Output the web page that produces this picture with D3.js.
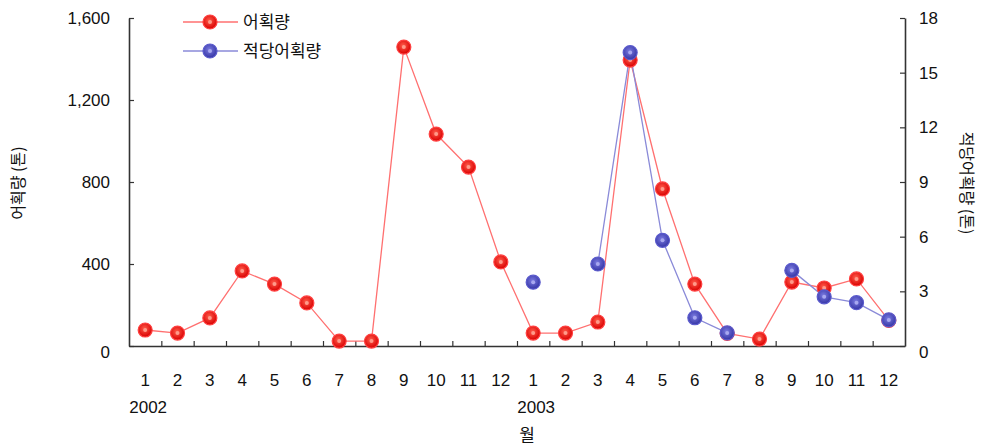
<!DOCTYPE html>
<html><head><meta charset="utf-8">
<script src="https://cdn.jsdelivr.net/npm/d3@7"></script>
<style>
body{margin:0;background:#fff;}
text{font-family:"Liberation Sans",Arial,sans-serif;fill:#111;}
.kr{font-family:"Noto Sans CJK KR",sans-serif;}
</style></head>
<body><svg id="c" width="993" height="448"></svg>
<script>
const months = ["1","2","3","4","5","6","7","8","9","10","11","12","1","2","3","4","5","6","7","8","9","10","11","12"];
const years = [{label:"2002", idx:0},{label:"2003", idx:12}];
const catch_t = [78,63,137,366,302,210,24,24,1458,1034,873,410,63,63,117,1395,766,302,62,34,312,283,327,125];
const proper_t = [null,null,null,null,null,null,null,null,null,null,null,null,3.5,null,4.5,16.1,5.8,1.55,0.72,null,4.15,2.7,2.38,1.43];
const leftTicks = [0,400,800,1200,1600];
const rightTicks = [0,3,6,9,12,15,18];

const svg = d3.select("#c");
const L=129,R=905,T=18,B=346;
const idx = d3.range(months.length);
const x = d3.scaleBand().domain(idx).range([L,R]);
const yL = d3.scaleLinear().domain([0,1600]).range([B,T]);
const yR = d3.scaleLinear().domain([0,18]).range([B,T]);
const cx = i => x(i)+x.bandwidth()/2;

const axisColor="#333";
const gl = svg.append("g").attr("transform",`translate(${L},0)`)
  .call(d3.axisLeft(yL).tickValues(leftTicks).tickFormat(d3.format(",")).tickSizeInner(-5).tickSizeOuter(0).tickPadding(19));
const gr = svg.append("g").attr("transform",`translate(${R},0)`)
  .call(d3.axisRight(yR).tickValues(rightTicks).tickSizeInner(-5).tickSizeOuter(0).tickPadding(14));
const xb = d3.scaleLinear().domain([0,24]).range([L,R]);
const gb = svg.append("g").attr("transform",`translate(0,${B})`)
  .call(d3.axisBottom(xb).tickValues(d3.range(1,24)).tickSizeInner(-5).tickSizeOuter(0).tickFormat(""));
[gl,gr,gb].forEach(g=>{
  g.selectAll("path").attr("stroke",axisColor).attr("stroke-width",1.6);
  g.selectAll("line").attr("stroke",axisColor).attr("stroke-width",1.2);
  g.selectAll("text").style("font-size","17px").attr("fill","#111");
});
gl.select(".tick:first-of-type text").attr("dy","0.65em");
gr.select(".tick:first-of-type text").attr("dy","0.65em");

svg.append("g").selectAll("text").data(idx).join("text")
  .attr("x",i=>cx(i)).attr("y",386).attr("text-anchor","middle")
  .style("font-size","17px").text(i=>months[i]);
svg.append("g").selectAll("text").data(years).join("text")
  .attr("x",d=>cx(d.idx)+3).attr("y",413).attr("text-anchor","middle")
  .style("font-size","17px").text(d=>d.label);
svg.append("text").attr("class","kr").attr("x",527).attr("y",441).attr("text-anchor","middle")
  .style("font-size","17px").text("월");

svg.append("text").attr("class","kr").attr("transform","translate(24,183) rotate(-90)")
  .attr("text-anchor","middle").style("font-size","16px").text("어획량 (톤)");
svg.append("text").attr("class","kr").attr("transform","translate(961,183) rotate(90)")
  .attr("text-anchor","middle").style("font-size","16px").text("적당어획량 (톤)");

const defs = svg.append("defs");
function grad(id,c1,c2){
  const g=defs.append("radialGradient").attr("id",id).attr("cx","45%").attr("cy","40%").attr("r","60%");
  g.append("stop").attr("offset","0%").attr("stop-color",c1);
  g.append("stop").attr("offset","100%").attr("stop-color",c2);
}
grad("gr","#ff5a4a","#d80000");
grad("gb","#7a7ae0","#3535a5");

const redLine="#ff7070", blueLine="#8a8ad8";
const lineL = d3.line().x((d,i)=>cx(i)).y(d=>yL(d));
svg.append("path").datum(catch_t).attr("d",lineL).attr("fill","none").attr("stroke",redLine).attr("stroke-width",1.3);
const lineR = d3.line().defined(d=>d!==null).x((d,i)=>cx(i)).y(d=>yR(d));
svg.append("path").datum(proper_t).attr("d",lineR).attr("fill","none").attr("stroke",blueLine).attr("stroke-width",1.3);

function marker(g,xp,yp,kind){
  g.append("circle").attr("cx",xp).attr("cy",yp).attr("r",7)
    .attr("fill",kind==="r"?"url(#gr)":"url(#gb)")
    .attr("stroke",kind==="r"?"#ff4040":"#5a5acc").attr("stroke-width",1.2);
  g.append("circle").attr("cx",xp).attr("cy",yp).attr("r",2)
    .attr("fill",kind==="r"?"#ff9a8a":"#a8a8f0");
}
const gm = svg.append("g");
catch_t.forEach((v,i)=>marker(gm,cx(i),yL(v),"r"));
proper_t.forEach((v,i)=>{ if(v!==null) marker(gm,cx(i),yR(v),"b"); });

const leg = svg.append("g");
leg.append("line").attr("x1",183).attr("x2",238).attr("y1",22).attr("y2",22).attr("stroke",redLine).attr("stroke-width",1.3);
marker(leg,210,22,"r");
leg.append("text").attr("class","kr").attr("x",243).attr("y",28).style("font-size","17px").text("어획량");
leg.append("line").attr("x1",183).attr("x2",238).attr("y1",51).attr("y2",51).attr("stroke",blueLine).attr("stroke-width",1.3);
marker(leg,210,51,"b");
leg.append("text").attr("class","kr").attr("x",243).attr("y",57).style("font-size","17px").text("적당어획량");
</script></body></html>
